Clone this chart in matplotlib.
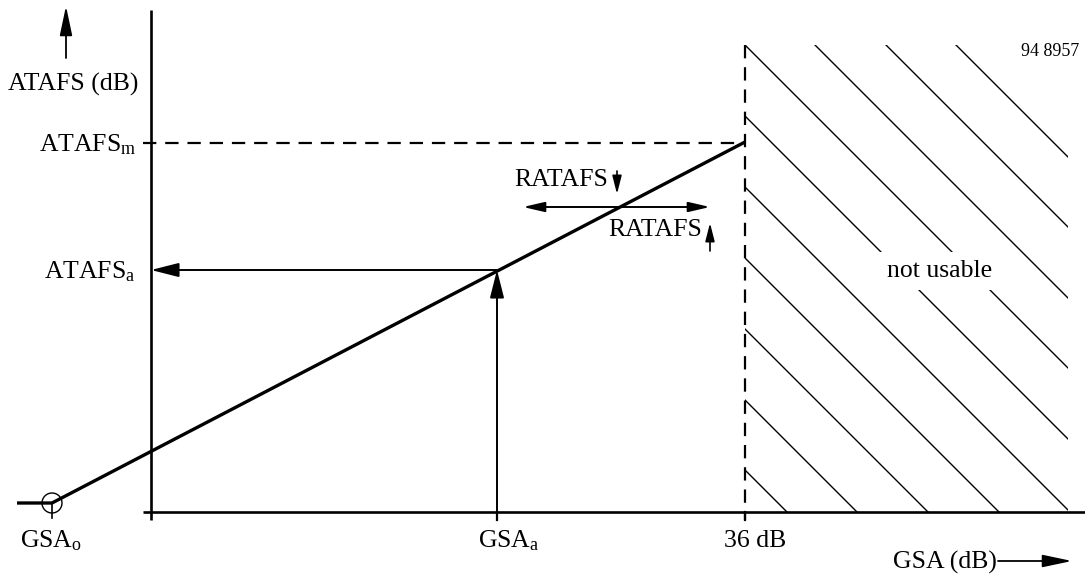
import matplotlib
matplotlib.use("Agg")
import matplotlib.pyplot as plt
from matplotlib.patches import Circle, Rectangle

plt.rcParams['font.family'] = ['Liberation Serif', 'DejaVu Serif']
plt.rcParams['mathtext.fontset'] = 'custom'
plt.rcParams['mathtext.rm'] = 'Liberation Serif'
plt.rcParams['mathtext.it'] = 'Liberation Serif:italic'

# ---- schematic data (diagram units, y grows downward) ----
response_x = [17, 52, 745]          # GSA: flat start, GSA_o, 36 dB
response_y = [503, 503, 142]        # ATAFS: flat, start, ATAFS_m
axis_origin = [151, 512]
gsa_o = 52
gsa_a = 497
gsa_36 = 745
atafs_m = 143
atafs_a = 270
ratafs_y = 207
ratafs_range = [523, 710]
hatch_box = [745, 45, 1068, 512]    # x0, y0, x1, y1
hatch_offsets = [-911, -841, -770, -700, -629, -558, -487, -416, -345, -275]

y_labels = ['ATAFS (dB)', r'ATAFS$_{\mathrm{m}}$', r'ATAFS$_{\mathrm{a}}$']
x_labels = [r'GSA$_{\mathrm{o}}$', r'GSA$_{\mathrm{a}}$', '36 dB', 'GSA (dB)']
FS = 18.5

fig = plt.figure(figsize=(10.85, 5.74), dpi=100)
ax = fig.add_axes([0, 0, 1, 1])
ax.set_xlim(0, 1085)
ax.set_ylim(574, 0)
ax.axis('off')


def arrow(x0, y0, x1, y1, hl=16, hw=4.3, lw=1.4, style='-|>'):
    ax.annotate('', xy=(x1, y1), xytext=(x0, y0),
                arrowprops=dict(arrowstyle=f'{style},head_length={hl},head_width={hw}',
                                lw=lw, color='black', shrinkA=0, shrinkB=0,
                                mutation_scale=1))


ox, oy = axis_origin
# axes
ax.plot([ox, ox], [10, 520], color='black', lw=1.9, solid_capstyle='butt')
ax.plot([143, 1085], [oy, oy], color='black', lw=1.9, solid_capstyle='butt')
# ticks
for tx in [gsa_a, gsa_36]:
    ax.plot([tx, tx], [oy, 520], color='black', lw=1.6)
ax.plot([gsa_o, gsa_o], [response_y[1], 518], color='black', lw=1.2)

# axis direction arrows
arrow(66, 58, 66, 6, hl=18, hw=3.8, lw=1.3)
arrow(998, 561, 1072, 561, hl=18, hw=3.8, lw=1.3)

# hatched region
hx0, hy0, hx1, hy1 = hatch_box
clip = Rectangle((hx0, hy0), hx1 - hx0, hy1 - hy0, transform=ax.transData)
for c in hatch_offsets:
    ln, = ax.plot([hx0 - 50, hx1 + 50], [hx0 - 50 + c, hx1 + 50 + c],
                  color='black', lw=1.0)
    ln.set_clip_path(clip)

# dashed lines
ax.plot([gsa_36, gsa_36], [45, 520], color='black', lw=1.6, ls=(0, (6, 4)))
ax.plot([143, gsa_36], [atafs_m, atafs_m], color='black', lw=1.6, ls=(0, (6, 4)))

# response curve
ax.plot(response_x, response_y, color='black', lw=2.4, solid_capstyle='butt',
        solid_joinstyle='miter', zorder=4)
ax.add_patch(Circle((gsa_o, response_y[1]), 10, fill=False, lw=1.0,
                    edgecolor='black', zorder=5))

# working point arrows
arrow(gsa_a, oy, gsa_a, atafs_a, hl=17, hw=4.3, lw=1.4)
arrow(gsa_a, atafs_a, ox, atafs_a, hl=17, hw=4.3, lw=1.4)
arrow(ratafs_range[0], ratafs_y, ratafs_range[1], ratafs_y, hl=13, hw=3.0, lw=1.4,
      style='<|-|>')
arrow(617, 171, 617, 194, hl=11, hw=2.8, lw=1.2)
arrow(710, 251, 710, 223, hl=11, hw=2.8, lw=1.2)

# texts
ax.text(8, 84, y_labels[0], fontsize=FS, ha='left', va='center')
ax.text(136, 145, y_labels[1], fontsize=FS, ha='right', va='center')
ax.text(136, 272, y_labels[2], fontsize=FS, ha='right', va='center')
ax.text(20, 541, x_labels[0], fontsize=FS, ha='left', va='center')
ax.text(478, 541, x_labels[1], fontsize=FS, ha='left', va='center')
ax.text(755, 541, x_labels[2], fontsize=FS, ha='center', va='center')
ax.text(997, 562, x_labels[3], fontsize=FS, ha='right', va='center')
ax.text(608, 180, 'RATAFS', fontsize=FS, ha='right', va='center')
ax.text(702, 230, 'RATAFS', fontsize=FS, ha='right', va='center')
ax.text(940, 271, 'not usable', fontsize=FS, ha='center', va='center', zorder=6,
        bbox=dict(facecolor='white', edgecolor='none', pad=6))
ax.text(1079, 51, '94 8957', fontsize=13, ha='right', va='center')

fig.savefig('out.png', dpi=100, facecolor='white')
